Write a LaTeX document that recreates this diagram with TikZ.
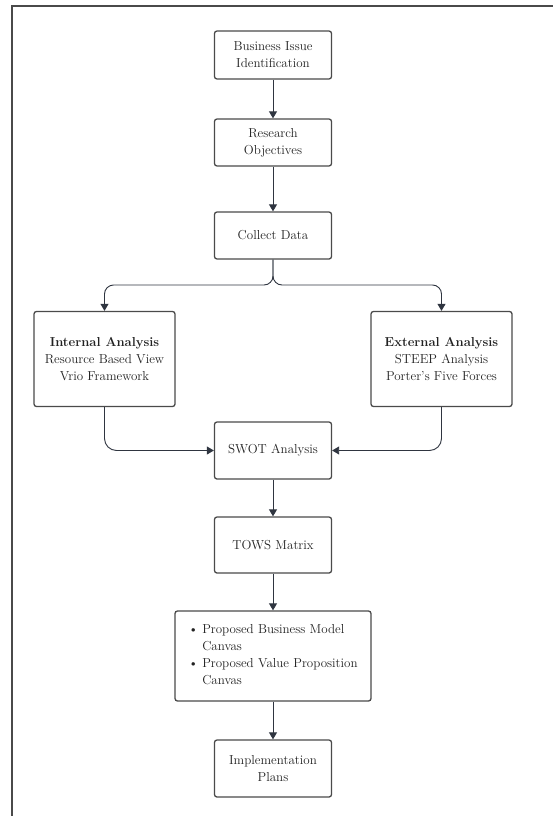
\documentclass[tikz,border=0pt]{standalone}
\usepackage{tikz}
\usetikzlibrary{arrows.meta, positioning, calc}
\definecolor{boxgray}{HTML}{4A4A4A}
\definecolor{arrowgray}{HTML}{2F3540}
\definecolor{textgray}{HTML}{222222}

\begin{document}
\begin{tikzpicture}[
    x=1pt, y=-1pt,
    stage/.style={rectangle, draw=boxgray, line width=1.3pt, rounded corners=2.5pt,
        fill=white, text=textgray, align=center, inner sep=2pt,
        font=\fontsize{13}{17}\selectfont},
    flow/.style={arrowgray, line width=0.9pt, -{Triangle[length=7pt, width=8pt]}}
]
    \useasboundingbox (0,0) rectangle (552,816);
    \draw[boxgray, line width=2pt] (12,830) -- (12,6) -- (570,6);

    \node[stage, minimum width=117pt, minimum height=48pt] (issue) at (273,55) {Business Issue\\Identification};
    \node[stage, minimum width=117pt, minimum height=47pt] (objectives) at (273,142.5) {Research\\Objectives};
    \node[stage, minimum width=117pt, minimum height=47pt] (collect) at (273,235.5) {Collect Data};
    \node[stage, minimum width=141pt, minimum height=95pt] (internal) at (104.5,359) {\textbf{Internal Analysis}\\Resource Based View\\Vrio Framework};
    \node[stage, minimum width=141pt, minimum height=95pt] (external) at (441.5,359) {\textbf{External Analysis}\\STEEP Analysis\\Porter's Five Forces};
    \node[stage, minimum width=117pt, minimum height=57pt] (swot) at (273,450.5) {SWOT Analysis};
    \node[stage, minimum width=117pt, minimum height=56pt] (tows) at (273,545) {TOWS Matrix};
    \node[stage, minimum width=196pt, minimum height=90pt] (proposed) at (273,656) {%
        \begin{tabular}{@{}l@{\hspace{4pt}}l@{}}
        \textbullet & Proposed Business Model\\
                    & Canvas\\
        \textbullet & Proposed Value Proposition\\
                    & Canvas
        \end{tabular}};
    \node[stage, minimum width=117pt, minimum height=57pt] (plans) at (273,768.5) {Implementation\\Plans};

    \coordinate (split) at (273,285);

    \draw[flow] (issue) -- (objectives);
    \draw[flow] (objectives) -- (collect);
    \draw[flow, rounded corners=9pt] (collect.south) -- (split) -| (internal.north);
    \draw[flow, rounded corners=9pt] (collect.south) -- (split) -| (external.north);
    \draw[flow, rounded corners=12pt] (internal.south) |- (swot.west);
    \draw[flow, rounded corners=12pt] (external.south) |- (swot.east);
    \draw[flow] (swot) -- (tows);
    \draw[flow] (tows) -- (proposed);
    \draw[flow] (proposed) -- (plans);
\end{tikzpicture}
\end{document}
